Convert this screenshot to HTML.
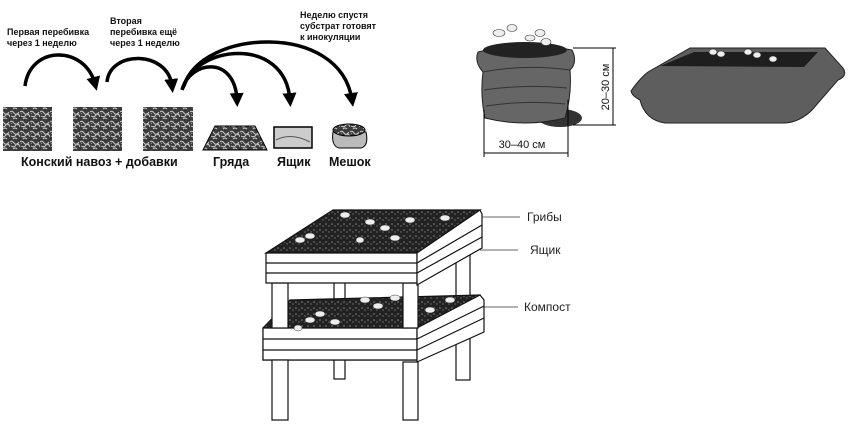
<!DOCTYPE html>
<html><head><meta charset="utf-8"><style>
html,body{margin:0;padding:0;background:#fff;width:850px;height:437px;overflow:hidden}
svg{display:block}
.t{font-family:"Liberation Sans","DejaVu Sans",sans-serif}
</style></head><body>
<svg width="850" height="437" viewBox="0 0 850 437" xmlns="http://www.w3.org/2000/svg">
<defs>
<pattern id="nz" width="10" height="10" patternUnits="userSpaceOnUse">
<rect width="10" height="10" fill="#3a3a3a"/>
<path d="M0 2 q2 -2 4 1 t5 -1 M1 6 q3 2 5 -1 t4 2 M3 9 q2 -2 4 0" stroke="#cfcfcf" stroke-width="1" fill="none"/>
<path d="M6 4 l2 1 M1 4 l1 -1" stroke="#aaa" stroke-width="0.8"/>
</pattern>
<pattern id="gr" width="6" height="6" patternUnits="userSpaceOnUse">
<rect width="6" height="6" fill="#222"/>
<circle cx="2" cy="2" r="0.8" fill="#888"/><circle cx="5" cy="4" r="0.7" fill="#777"/>
</pattern>
<marker id="ah" markerWidth="4" markerHeight="4" refX="2" refY="2" orient="auto" markerUnits="strokeWidth">
<path d="M0 0 L4 2 L0 4 z" fill="#000"/>
</marker>
</defs>

<g class="t" font-size="9" font-weight="bold" fill="#111">
<text x="7" y="35">Первая перебивка</text>
<text x="7" y="46">через 1 неделю</text>
<text x="110" y="24">Вторая</text>
<text x="110" y="35">перебивка ещё</text>
<text x="110" y="46">через 1 неделю</text>
<text x="300" y="18">Неделю спустя</text>
<text x="300" y="29">субстрат готовят</text>
<text x="300" y="40">к инокуляции</text>
</g>
<g fill="none" stroke="#000" stroke-width="3.5">
<path d="M25 86 C30 45 85 45 95 84" marker-end="url(#ah)"/>
<path d="M107 82 C110 50 168 50 172 86" marker-end="url(#ah)"/>
<path d="M182 90 C190 60 235 55 237 100" marker-end="url(#ah)"/>
<path d="M183 88 C195 45 285 35 290 100" marker-end="url(#ah)"/>
<path d="M184 86 C200 30 340 20 352 100" marker-end="url(#ah)"/>
</g>
<rect x="3" y="107" width="49" height="44" fill="url(#nz)"/>
<rect x="73" y="107" width="49" height="44" fill="url(#nz)"/>
<rect x="143" y="107" width="50" height="44" fill="url(#nz)"/>
<polygon points="203,150 215,126 255,126 267,150" fill="url(#nz)" stroke="#000"/>
<rect x="274" y="127" width="38" height="21" fill="#ccc" stroke="#000" stroke-width="1.5"/>
<path d="M276 140 q15 -8 34 2" stroke="#555" fill="none"/>
<path d="M333 132 q-2 14 6 16 h22 q8 -2 5 -16 z" fill="#bbb" stroke="#000"/>
<ellipse cx="349" cy="130" rx="16" ry="6" fill="url(#nz)" stroke="#000"/>
<g class="t" font-size="12.5" font-weight="bold" fill="#111">
<text x="21" y="166">Конский навоз + добавки</text>
<text x="213" y="166">Гряда</text>
<text x="277" y="166">Ящик</text>
<text x="329" y="166">Мешок</text>
</g>

<ellipse cx="560" cy="118" rx="22" ry="9" fill="#333"/>
<path d="M478 52 Q525 40 572 50 Q578 62 570 70 Q572 95 565 118 Q525 128 485 118 Q480 95 483 72 Q474 62 478 52 z" fill="#666" stroke="#222"/>
<ellipse cx="525" cy="50" rx="42" ry="8" fill="#222"/>
<path d="M483 72 Q525 64 570 70 M484 90 Q525 84 567 88 M486 106 Q525 100 565 104" stroke="#333" fill="none"/>
<g fill="#eee" stroke="#333" stroke-width="0.6">
<ellipse cx="499" cy="33" rx="6" ry="3.5"/><ellipse cx="512" cy="28" rx="5" ry="3.5"/>
<ellipse cx="530" cy="38" rx="5" ry="3"/><ellipse cx="540" cy="33" rx="5" ry="3.5"/><ellipse cx="546" cy="42" rx="5" ry="3.5"/>
</g>
<g stroke="#000" stroke-width="1" fill="none">
<path d="M573 48 H616 M573 125 H616 M613 48 V125"/>
<path d="M484 110 V157 M568 100 V157 M484 153 H568"/>
</g>
<g class="t" font-size="11" fill="#111">
<text x="522" y="148" text-anchor="middle">30–40 см</text>
<text transform="translate(609,87) rotate(-90)" text-anchor="middle">20–30 см</text>
</g>
<path d="M631 91 Q640 78 648 72 L690 48 L825 48 L843 68 Q848 76 838 80 L812 110 Q800 122 785 123 L665 123 Q645 120 640 100 Q632 96 631 91 z" fill="#5e5e5e" stroke="#222"/>
<polygon points="660,66 694,52 818,52 804,67" fill="#1e1e1e"/>
<g fill="#eee" stroke="#333" stroke-width="0.6">
<ellipse cx="713" cy="52" rx="4" ry="3"/><ellipse cx="721" cy="54" rx="4" ry="3"/>
<ellipse cx="748" cy="52" rx="4" ry="3"/><ellipse cx="757" cy="55" rx="4" ry="3"/><ellipse cx="773" cy="59" rx="4" ry="3"/>
</g>

<g stroke="#111" stroke-width="1.2" fill="#fff">
<rect x="334" y="355" width="11" height="24"/>
<rect x="334" y="280" width="11" height="22"/>
<rect x="456" y="245" width="14" height="135"/>
<polygon points="290,300 480,295 480,330 417,360 263,360 263,328" fill="url(#gr)"/>
<polygon points="263,328 417,328 417,360 263,360"/>
<polygon points="417,328 480,295 484,300 484,332 417,362"/>
<line x1="263" y1="339" x2="417" y2="339"/><line x1="263" y1="350" x2="417" y2="350"/>
<line x1="417" y1="339" x2="484" y2="306"/><line x1="417" y1="350" x2="484" y2="318"/>
<rect x="272" y="283" width="16" height="45"/>
<rect x="272" y="360" width="16" height="60"/>
<rect x="403" y="283" width="15" height="45"/>
<rect x="403" y="362" width="15" height="58"/>
<polygon points="333,210 480,210 417,253 266,253" fill="url(#gr)"/>
<polygon points="266,253 417,253 417,283 266,283"/>
<polygon points="417,253 480,210 482,214 482,248 417,285"/>
<line x1="266" y1="263" x2="417" y2="263"/><line x1="266" y1="273" x2="417" y2="273"/>
<line x1="417" y1="263" x2="482" y2="225"/><line x1="417" y1="273" x2="482" y2="237"/>
</g>
<g fill="#eee" stroke="#333" stroke-width="0.5">
<ellipse cx="300" cy="240" rx="5" ry="3"/><ellipse cx="310" cy="236" rx="5" ry="3"/><ellipse cx="345" cy="215" rx="5" ry="3"/>
<ellipse cx="370" cy="222" rx="5" ry="3"/><ellipse cx="385" cy="228" rx="5" ry="3"/><ellipse cx="410" cy="220" rx="5" ry="3"/>
<ellipse cx="395" cy="238" rx="5" ry="3"/><ellipse cx="445" cy="218" rx="5" ry="3"/><ellipse cx="360" cy="240" rx="4" ry="3"/>
<ellipse cx="310" cy="320" rx="5" ry="3"/><ellipse cx="320" cy="314" rx="5" ry="3"/><ellipse cx="335" cy="322" rx="5" ry="3"/>
<ellipse cx="365" cy="300" rx="5" ry="3"/><ellipse cx="378" cy="306" rx="5" ry="3"/><ellipse cx="395" cy="298" rx="5" ry="3"/>
<ellipse cx="430" cy="310" rx="5" ry="3"/><ellipse cx="450" cy="300" rx="5" ry="3"/><ellipse cx="298" cy="328" rx="4" ry="3"/>
</g>
<g stroke="#333" stroke-width="0.8">
<line x1="482" y1="217" x2="520" y2="217"/>
<line x1="480" y1="250" x2="518" y2="250"/>
<line x1="482" y1="307" x2="518" y2="307"/>
</g>
<g class="t" font-size="12" fill="#222">
<text x="527" y="221">Грибы</text>
<text x="530" y="254">Ящик</text>
<text x="524" y="311">Компост</text>
</g>
</svg>
</body></html>
